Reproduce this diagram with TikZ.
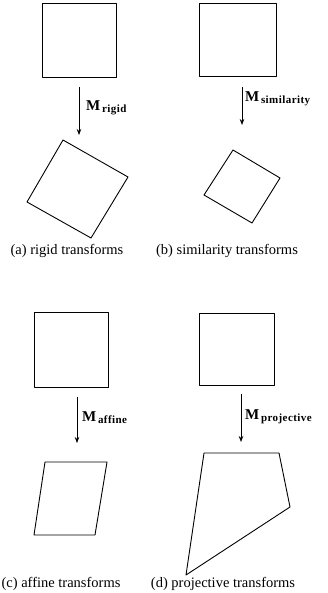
\documentclass[tikz,border=0pt]{standalone}
\usepackage{fontspec}
\setmainfont{Liberation Serif}
\usepackage{tikz}
\usetikzlibrary{arrows.meta}

\newcommand{\tlabel}[1]{{\fontsize{15}{15}\selectfont\bfseries M}\,\raisebox{-2pt}{\fontsize{11}{11}\selectfont\bfseries\addfontfeature{LetterSpace=4}#1}}

\tikzset{
	outline/.style={line width=0.9pt, line join=round},
	map/.style={line width=0.7pt, -{Stealth[length=6pt,width=4.5pt]}},
	maplabel/.style={anchor=west, inner sep=0pt},
	caption/.style={inner sep=0pt, font=\fontsize{14.5}{14.5}\selectfont}
}

\begin{document}
\begin{tikzpicture}[x=1pt,y=-1pt]
				\useasboundingbox (0,0) rectangle (327,593);
				
				% (a) rigid
				\draw[outline] (42,3) rectangle (116,77);
				\coordinate (a1) at (79,87);
				\coordinate (a2) at (79,135);
				\draw[map] (a1) -- (a2);
				\node[maplabel] (la) at (86,108) {\tlabel{rigid}};
				\draw[outline] (63,140) -- (128,177) -- (91,238) -- (27,202) -- cycle;
				\node[caption] (ca) at (67,251) {(a) rigid transforms};
				
				% (b) similarity
				\draw[outline] (199,3) rectangle (276,76);
				\coordinate (b1) at (242,87);
				\coordinate (b2) at (242,125);
				\draw[map] (b1) -- (b2);
				\node[maplabel] (lb) at (245,99) {\tlabel{similarity}};
				\draw[outline] (233,150) -- (280,178) -- (252,223) -- (204,195) -- cycle;
				\node[caption] (cb) at (227,251) {(b) similarity transforms};
				
				% (c) affine
				\draw[outline] (34,312) rectangle (108,387);
				\coordinate (c1) at (77,397);
				\coordinate (c2) at (77,443);
				\draw[map] (c1) -- (c2);
				\node[maplabel] (lc) at (82,418) {\tlabel{affine}};
				\draw[outline] (45,462) -- (107,462) -- (95,535) -- (34,535) -- cycle;
				\node[caption] (cc) at (61,584) {(c) affine transforms};
				
				% (d) projective
				\draw[outline] (199,313) rectangle (274,385);
				\coordinate (d1) at (241,394);
				\coordinate (d2) at (241,442);
				\draw[map] (d1) -- (d2);
				\node[maplabel] (ld) at (245,417) {\tlabel{projective}};
				\draw[outline] (204,453) -- (279,453) -- (290,507) -- (186,575) -- cycle;
				\node[caption] (cd) at (223,584) {(d) projective transforms};
			\end{tikzpicture}
\end{document}
